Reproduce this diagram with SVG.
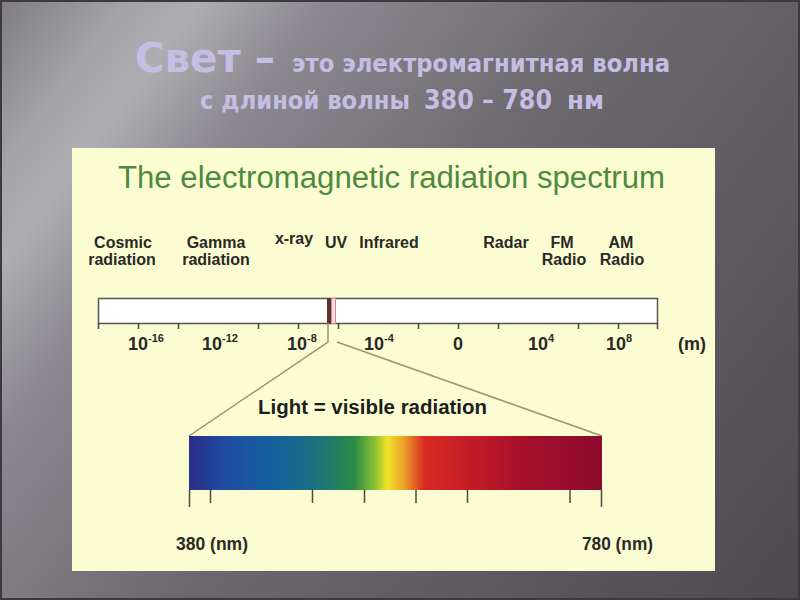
<svg xmlns="http://www.w3.org/2000/svg" width="800" height="600" viewBox="0 0 800 600">
  <defs>
    <linearGradient id="bg" x1="0" y1="0" x2="800" y2="600" gradientUnits="userSpaceOnUse">
      <stop offset="0" stop-color="#7e7c82"/>
      <stop offset="0.1" stop-color="#a3a2a7"/>
      <stop offset="0.16" stop-color="#aeadb2"/>
      <stop offset="0.26" stop-color="#8b898f"/>
      <stop offset="0.5" stop-color="#6b696e"/>
      <stop offset="1" stop-color="#4c4a4f"/>
    </linearGradient>
    <linearGradient id="vis" x1="189" y1="0" x2="602" y2="0" gradientUnits="userSpaceOnUse">
      <stop offset="0" stop-color="#2b2c86"/>
      <stop offset="0.08" stop-color="#1f4aa0"/>
      <stop offset="0.2" stop-color="#155fa0"/>
      <stop offset="0.3" stop-color="#1a7080"/>
      <stop offset="0.4" stop-color="#2a8a48"/>
      <stop offset="0.45" stop-color="#8ac030"/>
      <stop offset="0.48" stop-color="#f0e428"/>
      <stop offset="0.52" stop-color="#eda028"/>
      <stop offset="0.57" stop-color="#d82a22"/>
      <stop offset="0.68" stop-color="#c41c26"/>
      <stop offset="0.8" stop-color="#a8102c"/>
      <stop offset="1" stop-color="#8c0a2c"/>
    </linearGradient>
    <style>
      .hd { font-family: "DejaVu Sans", "Liberation Sans", sans-serif; font-weight: bold; fill: #c6bde3; }
      .lbl { font-family: "Liberation Sans", Arial, sans-serif; font-weight: bold; font-size: 16px; fill: #2a2a26; text-anchor: middle; }
      .num { font-family: "Liberation Sans", Arial, sans-serif; font-weight: bold; font-size: 18px; fill: #2a2a26; }
      .sup { font-size: 11px; }
      .tick { stroke: #4a4a44; stroke-width: 1.5; fill: none; }
      .conn { stroke: #98966e; stroke-width: 1.5; fill: none; }
    </style>
  </defs>

  <rect id="background" x="0" y="0" width="800" height="600" fill="url(#bg)"/>
  <rect x="1" y="1" width="798" height="598" fill="none" stroke="#3c3a3e" stroke-width="2"/>

  <g id="heading">
    <text class="hd" x="135" y="72" font-size="40" textLength="140" lengthAdjust="spacingAndGlyphs">Свет –</text>
    <text class="hd" x="292" y="72" font-size="24" textLength="378" lengthAdjust="spacingAndGlyphs">это электромагнитная волна</text>
    <text class="hd" x="200" y="109" font-size="24" textLength="210" lengthAdjust="spacingAndGlyphs">с длиной волны</text>
    <text class="hd" x="424" y="109" font-size="26" textLength="128" lengthAdjust="spacingAndGlyphs">380 – 780</text>
    <text class="hd" x="567" y="109" font-size="24" textLength="37" lengthAdjust="spacingAndGlyphs">нм</text>
  </g>

  <g id="panel">
    <rect x="72" y="148" width="643" height="423" fill="#fcfcd2"/>
  </g>

  <g id="title">
    <text x="118" y="188" font-family="'Liberation Sans', Arial, sans-serif" font-size="31" fill="#4d8a3e" textLength="547" lengthAdjust="spacingAndGlyphs">The electromagnetic radiation spectrum</text>
  </g>

  <g id="labels">
    <g id="cosmic"><text class="lbl" x="123" y="248">Cosmic</text><text class="lbl" x="122" y="265">radiation</text></g>
    <g id="gamma"><text class="lbl" x="216" y="248">Gamma</text><text class="lbl" x="216" y="265">radiation</text></g>
    <g id="xray"><text class="lbl" x="294" y="244">x-ray</text></g>
    <g id="uv"><text class="lbl" x="336" y="248">UV</text></g>
    <g id="infrared"><text class="lbl" x="389" y="248">Infrared</text></g>
    <g id="radar"><text class="lbl" x="506" y="248">Radar</text></g>
    <g id="fm"><text class="lbl" x="562" y="248">FM</text><text class="lbl" x="564" y="265">Radio</text></g>
    <g id="am"><text class="lbl" x="621" y="248">AM</text><text class="lbl" x="622" y="265">Radio</text></g>
  </g>

  <g id="scale">
    <rect x="98.5" y="298.5" width="559" height="25" fill="#ffffff" stroke="#55554d" stroke-width="1.5"/>
    <path class="tick" d="M98.5 323v6M138.5 323v6M178.5 323v6M258.5 323v6M298.5 323v6M338.5 323v6M418.5 323v6M458.5 323v6M498.5 323v6M578.5 323v6M618.5 323v6M657.5 323v6"/>
    <text class="num" x="128" y="350">10<tspan class="sup" dy="-8">-16</tspan></text>
    <text class="num" x="202" y="350">10<tspan class="sup" dy="-8">-12</tspan></text>
    <text class="num" x="287" y="350">10<tspan class="sup" dy="-8">-8</tspan></text>
    <text class="num" x="364" y="350">10<tspan class="sup" dy="-8">-4</tspan></text>
    <text class="num" x="453" y="350">0</text>
    <text class="num" x="528" y="350">10<tspan class="sup" dy="-8">4</tspan></text>
    <text class="num" x="606" y="350">10<tspan class="sup" dy="-8">8</tspan></text>
    <text class="num" x="678" y="350">(m)</text>
  </g>

  <g id="visible-band">
    <rect x="327" y="298" width="4" height="26" fill="#5a3530"/>
    <rect x="331.5" y="298.5" width="4" height="25" fill="#f6dde2" stroke="#d08898" stroke-width="1"/>
  </g>

  <g id="connectors">
    <path class="conn" d="M328 323 V342 L189 436"/>
    <path class="conn" d="M337 342 L602 436"/>
  </g>

  <g id="light">
    <text x="258" y="414" font-family="'Liberation Sans', Arial, sans-serif" font-weight="bold" font-size="20" fill="#1e1e1c" textLength="229" lengthAdjust="spacingAndGlyphs">Light = visible radiation</text>
  </g>

  <g id="spectrum">
    <rect x="189" y="436" width="413" height="54" fill="url(#vis)"/>
    <path class="tick" d="M189.5 490v17M210.5 490v13M312.5 490v13M364.5 490v13M416 490v13M467.5 490v13M570 490v13M601.5 490v17"/>
    <text class="num" x="176" y="550" font-size="17" textLength="72" lengthAdjust="spacingAndGlyphs">380 (nm)</text>
    <text class="num" x="582" y="550" font-size="17" textLength="71" lengthAdjust="spacingAndGlyphs">780 (nm)</text>
  </g>
</svg>
